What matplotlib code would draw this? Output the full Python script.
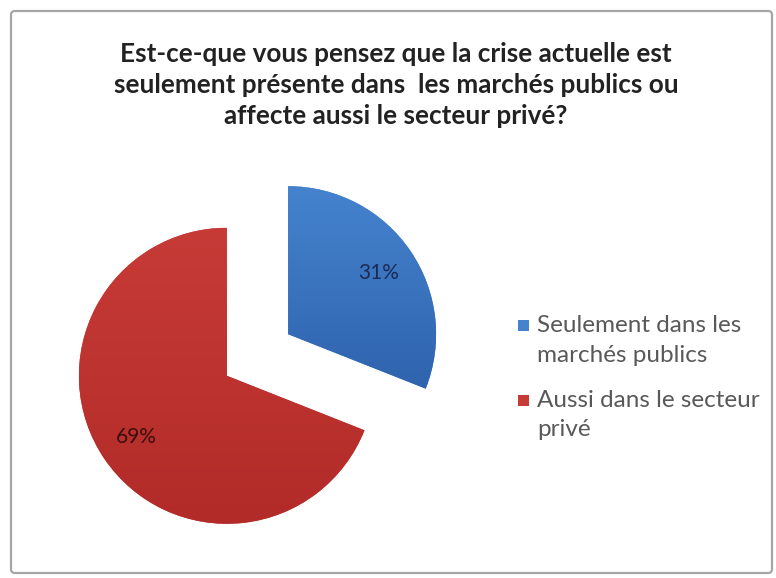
import numpy as np
import matplotlib
matplotlib.use("Agg")
import matplotlib.pyplot as plt
from matplotlib.patches import FancyBboxPatch, Rectangle
from matplotlib.colors import LinearSegmentedColormap

# ---- data ----
categories = ["Seulement dans les\nmarchés publics", "Aussi dans le secteur\nprivé"]
values = [31, 69]
colors_top = ["#4583CE", "#C73B37"]
colors_bot = ["#2F63AE", "#B22B28"]
label_colors = ["#1B2B55", "#3A0E0E"]
title = ("Est-ce-que vous pensez que la crise actuelle est\n"
         "seulement présente dans  les marchés publics ou\n"
         "affecte aussi le secteur privé?")

W, H = 776, 578
fig = plt.figure(figsize=(W / 100, H / 100), dpi=100)
ax = fig.add_axes([0, 0, 1, 1])

def Y(y):
    return H - y

# chart border
border = FancyBboxPatch((11, Y(573)), 761, 562, boxstyle="round,pad=0,rounding_size=4",
                        facecolor="white", edgecolor="#A6A6A6", linewidth=1.6, zorder=0)
ax.add_patch(border)

R = 148
explode_frac = 0.25
center = (257.5, Y(355))
wedges, texts, autotexts = ax.pie(
    values, explode=[explode_frac * R] * len(values), startangle=90, counterclock=False,
    radius=R, center=center, colors=colors_top, autopct="%d%%",
    pctdistance=0.74, frame=True,
    wedgeprops=dict(linewidth=0),
    textprops=dict(fontsize=15, family="Lato"))

# vertical gradient fill clipped to each wedge
for w, ct, cb in zip(wedges, colors_top, colors_bot):
    cmap = LinearSegmentedColormap.from_list("g", [cb, ct])
    grad = np.linspace(0, 1, 256).reshape(-1, 1)
    bb = w.get_path().get_extents()
    im = ax.imshow(grad, cmap=cmap, origin="lower", aspect="auto",
                   extent=[bb.x0, bb.x1, bb.y0, bb.y1], zorder=w.get_zorder())
    im.set_clip_path(w)

for t, c in zip(autotexts, label_colors):
    t.set_color(c)
    t.set_zorder(5)

ax.set_xlim(0, W)
ax.set_ylim(0, H)
ax.set_aspect("equal")
ax.set_axis_off()

# title
ax.text(396, Y(85), title, ha="center", va="center", fontsize=18.8,
        fontweight="bold", family="Lato", color="#222222", linespacing=1.36)

# legend
leg_y = [325, 400]
for lab, col, y in zip(categories, colors_top, leg_y):
    ax.add_patch(Rectangle((518, Y(y) - 5.5), 11, 11, facecolor=col, edgecolor="none"))
    ax.text(537, Y(y - 10), lab, ha="left", va="top", fontsize=17.5, family="Lato",
            color="#595959", linespacing=1.5)

fig.savefig("out.png", dpi=100)
